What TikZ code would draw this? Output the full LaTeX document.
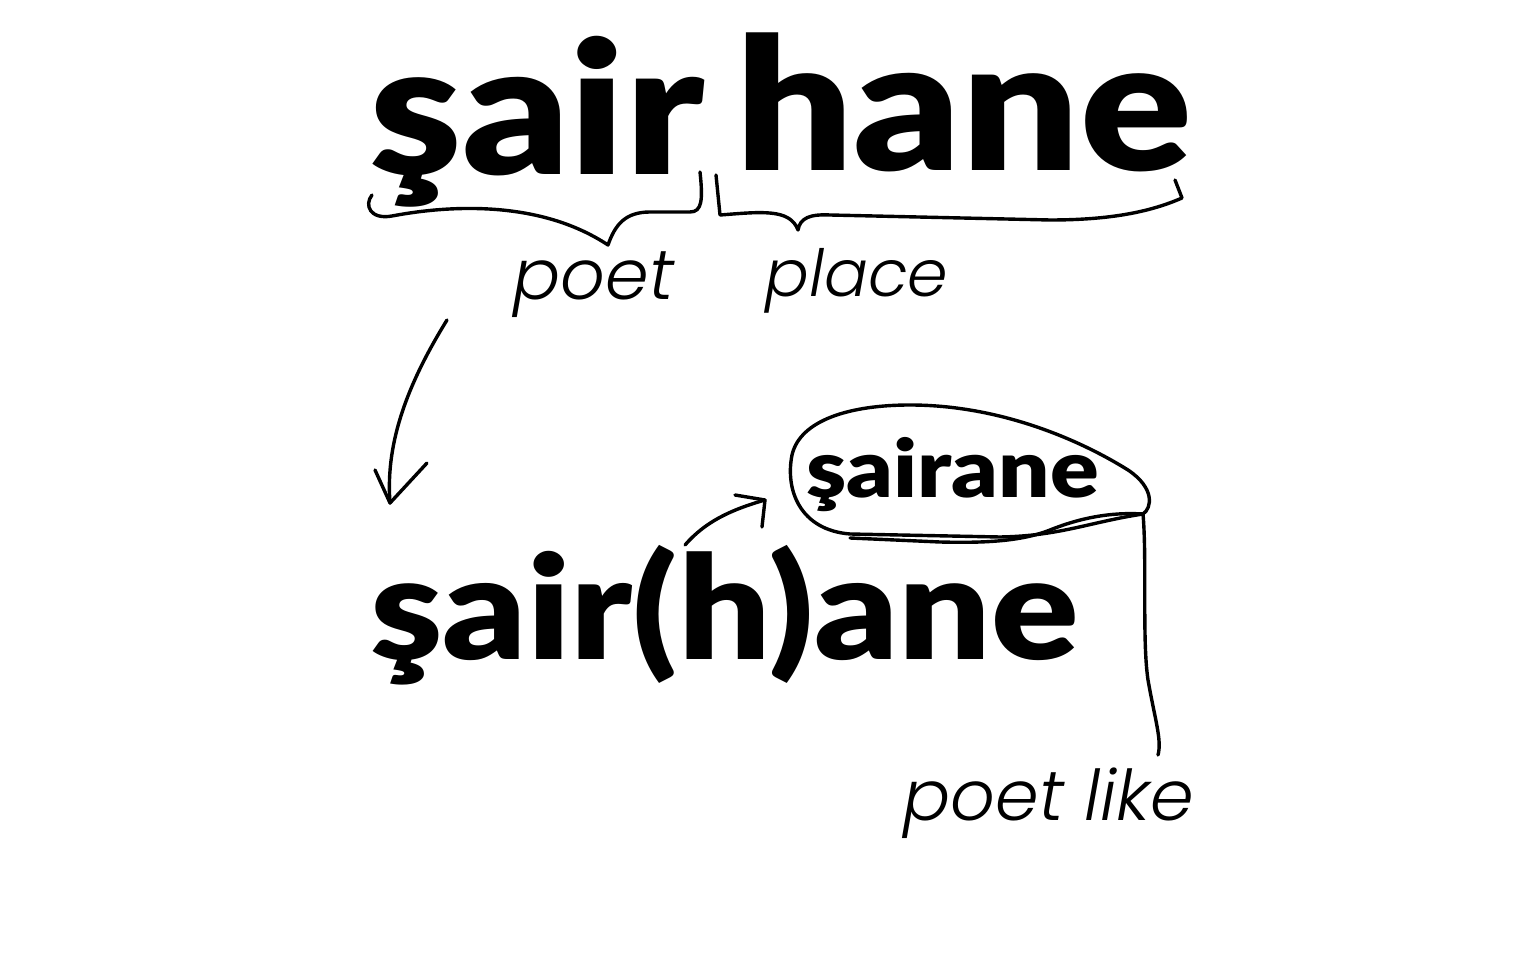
\documentclass[tikz,border=0pt]{standalone}
\usepackage{fontspec}
\usepackage{tikz}
\usetikzlibrary{positioning}
\IfFontExistsTF{Lato Black}
  {\newfontfamily\wordfont{Lato Black}[FakeStretch=1.13]}
  {\newfontfamily\wordfont{Lato Bold}[FakeStretch=1.13]}
\IfFontExistsTF{Poppins Light Italic}
  {\newfontfamily\glossfont{Poppins Light Italic}}
  {\newfontfamily\glossfont{Poppins}[FakeSlant=0.2]}
\tikzset{
  sketch/.style={line width=1.7pt, line cap=round, line join=round},
  word/.style={inner sep=0pt, anchor=base west},
  gloss/.style={inner sep=0pt, anchor=base west}
}

\begin{document}
\begin{tikzpicture}[x=0.5pt, y=-0.5pt]
           \useasboundingbox (0,0) rectangle (1514,956);

           % Compound
           \node[word, font=\wordfont\fontsize{92}{92}\selectfont] (sair) at (369,175) {şair};
           \node[word, font=\wordfont\fontsize{92}{92}\selectfont] (hane) at (735,171) {hane};

           % Glosses
           \node[gloss, font=\glossfont\fontsize{35}{35}\selectfont] (poet) at (513,300) {poet};
           \node[gloss, font=\glossfont\fontsize{32.5}{32.5}\selectfont] (place) at (765,297) {place};

           % Braces
           \draw[sketch] (372,195) .. controls (364,205) and (370,220) .. (392,216)
                 .. controls (450,205) and (540,200) .. (608,245)
                 .. controls (615,225) and (625,212) .. (650,212)
                 -- (690,212) .. controls (702,212) and (703,200) .. (700,172);
           \draw[sketch] (716,175) -- (720,215)
                 .. controls (760,212) and (790,208) .. (798,230)
                 .. controls (800,218) and (810,214) .. (830,215)
                 -- (1050,220) .. controls (1110,220) and (1150,212) .. (1182,198)
                 -- (1175,180);

           % Result
           \node[word, font=\wordfont\fontsize{72}{72}\selectfont] (sairhane) at (370,659) {şair(h)ane};
           \node[word, font=\wordfont\fontsize{40}{40}\selectfont] (sairane) at (806,497) {şairane};
           \node[gloss, font=\glossfont\fontsize{35}{35}\selectfont] (poetlike) at (903,820) {poet like};

           % Arrow down
           \coordinate (down start) at (447,320);
           \coordinate (down tip) at (390,503);
           \draw[sketch] (down start) .. controls (410,380) and (385,440) .. (down tip);
           \draw[sketch] (375,470) -- (down tip) -- (427,463);

           % Arrow up
           \coordinate (up start) at (685,545);
           \coordinate (up tip) at (765,500);
           \draw[sketch] (up start) .. controls (705,522) and (730,510) .. (up tip);
           \draw[sketch] (735,495) -- (up tip) -- (762,527);

           % Loop round sairane
           \coordinate (knot) at (1143,514);
           \draw[sketch] (knot) .. controls (1090,522) and (1060,536) .. (1000,537)
                 -- (850,534) .. controls (800,530) and (785,490) .. (792,455)
                 .. controls (800,420) and (850,405) .. (910,405)
                 .. controls (1000,405) and (1080,440) .. (1128,470)
                 .. controls (1155,488) and (1152,508) .. (knot);
           \draw[sketch] (knot) .. controls (1110,512) and (1080,518) .. (1050,530)
                 .. controls (1020,542) and (980,543) .. (940,542) -- (850,538);

           % Tail
           \draw[sketch] (knot) .. controls (1147,560) and (1142,640) .. (1148,680)
                 .. controls (1155,720) and (1162,740) .. (1158,755);

\end{tikzpicture}
\end{document}
